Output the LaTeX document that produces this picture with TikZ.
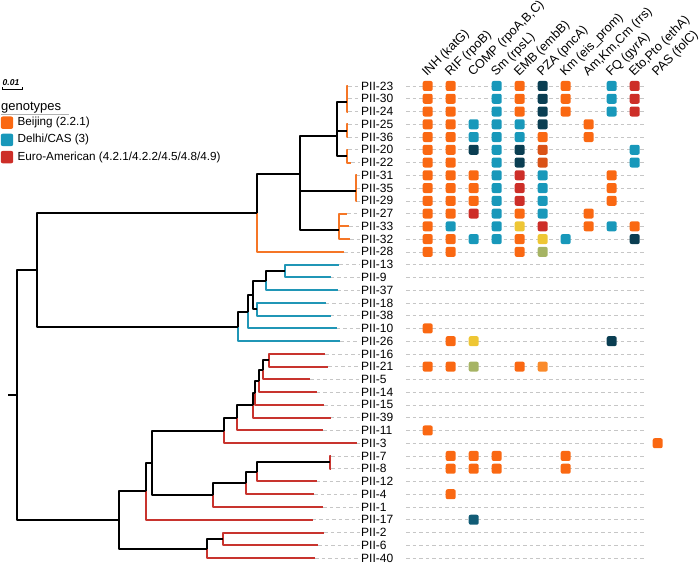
\documentclass[tikz,border=0pt]{standalone}
\usepackage{fontspec}
\setmainfont{Liberation Sans}
\usepackage{tikz}
\usetikzlibrary{positioning,calc}
\usepackage{xcolor}
\definecolor{bjOrange}{RGB}{245,118,38}
\definecolor{dcTeal}{RGB}{32,150,182}
\definecolor{euRed}{RGB}{200,52,46}
\definecolor{hmO}{RGB}{250,104,18}
\definecolor{hmT}{RGB}{24,152,186}
\definecolor{hmN}{RGB}{10,62,82}
\definecolor{hmR}{RGB}{205,46,40}
\definecolor{hmY}{RGB}{238,198,52}
\definecolor{hmG}{RGB}{166,180,100}
\definecolor{hmDO}{RGB}{218,82,22}
\definecolor{hmLO}{RGB}{250,138,42}
\definecolor{hmDT}{RGB}{18,92,118}
\definecolor{dashgray}{RGB}{198,198,198}
\tikzset{
  branch/.style={line width=2pt,line join=round},
  tiplab/.style={anchor=west,inner sep=0pt,font=\fontsize{12}{14}\selectfont},
  hdr/.style={anchor=base west,rotate=45,inner sep=0pt,font=\fontsize{12.6}{15}\selectfont},
  cell/.style={rectangle,rounded corners=2pt,minimum size=10pt,inner sep=0pt},
  leader/.style={draw=dashgray,line width=0.6pt,dash pattern=on 3.5pt off 3pt},
  legsq/.style={rectangle,rounded corners=2pt,minimum size=12.4pt,inner sep=0pt},
  legtxt/.style={anchor=west,inner sep=0pt,font=\fontsize{11.7}{14}\selectfont}
}

\begin{document}
\begin{tikzpicture}[x=1pt,y=-1pt]
  \useasboundingbox (0,0) rectangle (700,564);

  \foreach \n/\r/\tx in {23/0/348,30/1/348,24/2/348,25/3/348,36/4/348,20/5/348,22/6/351,
      31/7/357,35/8/357,29/9/357,27/10/347,33/11/349,32/12/350,28/13/344,13/14/339,
      9/15/330.7,37/16/337.7,18/17/325.7,38/18/330.7,10/19/336.7,26/20/340,16/21/325.3,
      21/22/328.3,5/23/310,14/24/316.7,15/25/324,39/26/330.7,11/27/323.3,3/28/356.7,
      7/29/331,8/30/331,12/31/316.7,4/32/314,1/33/323.3,17/34/312.7,2/35/324.3,
      6/36/318,40/37/315} {
    \pgfmathsetmacro\yy{86+12.757*\r}
    \coordinate (t\n) at (\tx,\yy);
    \node[tiplab] (lab\n) at (361,\yy) {PII-\n};
    \coordinate (rs\n) at (406,\yy);
    \coordinate (re\n) at (646,\yy);
    \draw[leader] (t\n) -- ([xshift=-1.5pt]lab\n.west);
    \draw[leader] (rs\n) -- (re\n);
  }

  \coordinate (stub) at (8,394.7);
  \coordinate (root) at (17,394.7);
  \coordinate (A) at (37,270);
  \coordinate (B) at (257,213);
  \coordinate (B1) at (300,174);
  \coordinate (B11) at (337,136.3);
  \coordinate (C1) at (346.7,102.2);
  \coordinate (C2) at (346.7,130.7);
  \coordinate (C3) at (346.7,156.2);
  \coordinate (B12) at (355.5,191.2);
  \coordinate (B13) at (339.3,229.5);
  \coordinate (D) at (237.7,326.5);
  \coordinate (D1) at (248.3,311.7);
  \coordinate (D2) at (253.3,295);
  \coordinate (D3) at (266,280.6);
  \coordinate (D4) at (257,309.3);
  \coordinate (D5) at (285,271);
  \coordinate (E) at (119.3,519.9);
  \coordinate (E1) at (145.7,491.3);
  \coordinate (E11) at (151.7,462.9);
  \coordinate (E111) at (224,430.6);
  \coordinate (E1111) at (237.3,418);
  \coordinate (F5) at (253.3,405.4);
  \coordinate (F4) at (254.7,393);
  \coordinate (F3) at (259.3,381.1);
  \coordinate (F2) at (263,369.9);
  \coordinate (F1) at (269,360.4);
  \coordinate (E112) at (212.7,495.1);
  \coordinate (E1121) at (245.7,483.2);
  \coordinate (E11211) at (256.7,472);
  \coordinate (E78) at (330.3,462.4);
  \coordinate (E2) at (207.3,548.5);
  \coordinate (E21) at (222.7,539);

  \foreach \p/\c in {C1/t23,C1/t30,C1/t24,C2/t25,C2/t36,C3/t20,C3/t22,B12/t31,B12/t35,
      B12/t29,B13/t27,B13/t33,B13/t32,B/t28}
    \draw[branch,bjOrange] (\p) |- (\c);
  \foreach \p/\c in {D5/t13,D5/t9,D3/t37,D4/t18,D4/t38,D1/t10,D/t26}
    \draw[branch,dcTeal] (\p) |- (\c);
  \foreach \p/\c in {F1/t16,F1/t21,F2/t5,F3/t14,F4/t15,F5/t39,E1111/t11,E111/t3,E78/t7,
      E78/t8,E11211/t12,E1121/t4,E112/t1,E1/t17,E21/t2,E21/t6,E2/t40}
    \draw[branch,euRed] (\p) |- (\c);
  \foreach \p/\c in {root/A,root/E,A/B,A/D,B/B1,B1/B11,B1/B12,B1/B13,B11/C1,B11/C2,B11/C3,
      D/D1,D1/D2,D2/D3,D2/D4,D3/D5,E/E1,E/E2,E1/E11,E11/E111,E11/E112,E111/E1111,
      E1111/F5,F5/F4,F4/F3,F3/F2,F2/F1,E112/E1121,E1121/E11211,E11211/E78,E2/E21}
    \draw[branch] (\p) |- (\c);
  \draw[branch] (stub) -- (root);

  \foreach \c/\t in {0/{INH (katG)},1/{RIF (rpoB)},2/{COMP (rpoA,B,C)},3/{Sm (rpsL)},
      4/{EMB (embB)},5/{PZA (pncA)},6/{Km (eis\_prom)},7/{Am,Km,Cm (rrs)},
      8/{FQ (gyrA)},9/{Eto,Pto (ethA)},10/{PAS (folC)}}
    \node[hdr] (h\c) at ({427+23*\c},77) {\t};

  \foreach \r/\c/\col in {0/0/hmO,0/1/hmO,0/3/hmT,0/4/hmO,0/5/hmN,0/6/hmO,0/8/hmT,0/9/hmR,
      1/0/hmO,1/1/hmO,1/3/hmT,1/4/hmO,1/5/hmN,1/6/hmO,1/8/hmT,1/9/hmR,
      2/0/hmO,2/1/hmO,2/3/hmT,2/4/hmO,2/5/hmN,2/6/hmO,2/8/hmT,2/9/hmR,
      3/0/hmO,3/1/hmO,3/2/hmT,3/3/hmT,3/4/hmT,3/5/hmN,3/7/hmO,
      4/0/hmO,4/1/hmO,4/2/hmT,4/3/hmT,4/4/hmT,4/5/hmO,4/7/hmO,
      5/0/hmO,5/1/hmO,5/2/hmN,5/3/hmT,5/4/hmN,5/5/hmDO,5/9/hmT,
      6/0/hmO,6/1/hmO,6/3/hmT,6/4/hmN,6/5/hmDO,6/9/hmT,
      7/0/hmO,7/1/hmO,7/2/hmO,7/3/hmT,7/4/hmR,7/5/hmT,7/8/hmO,
      8/0/hmO,8/1/hmO,8/2/hmO,8/3/hmT,8/4/hmR,8/5/hmT,8/8/hmO,
      9/0/hmO,9/1/hmO,9/2/hmO,9/3/hmT,9/4/hmR,9/5/hmT,9/8/hmO,
      10/0/hmO,10/1/hmO,10/2/hmR,10/3/hmT,10/4/hmO,10/5/hmT,10/7/hmO,
      11/0/hmO,11/1/hmT,11/3/hmT,11/4/hmY,11/5/hmR,11/7/hmO,11/8/hmT,11/9/hmO,
      12/0/hmO,12/1/hmO,12/2/hmT,12/3/hmT,12/4/hmO,12/5/hmY,12/6/hmT,12/9/hmN,
      13/0/hmO,13/1/hmO,13/4/hmO,13/5/hmG,
      19/0/hmO,20/1/hmO,20/2/hmY,20/8/hmN,
      22/0/hmO,22/1/hmO,22/2/hmG,22/4/hmO,22/5/hmLO,
      27/0/hmO,28/10/hmO,
      29/1/hmO,29/2/hmO,29/3/hmO,29/6/hmO,
      30/1/hmO,30/2/hmO,30/3/hmO,30/6/hmO,
      32/1/hmO,34/2/hmDT}
    \node[cell,fill=\col] (c\r x\c) at ({427.7+23*\c},{86+12.757*\r}) {};

  \node[inner sep=0pt,anchor=base west,font=\bfseries\itshape\fontsize{8.5}{10}\selectfont]
    (sclab) at (2.5,86) {0.01};
  \coordinate (sb1) at (2,87.3);
  \coordinate (sb2) at (22,87.3);
  \draw[line width=0.6pt] (sb1) -- ++(0,2.2) -| (sb2);
  \node[inner sep=0pt,anchor=base west,font=\fontsize{13}{15}\selectfont]
    (gttl) at (1,111) {genotypes};
  \draw[gray!60,line width=0.6pt] ([yshift=-3.5pt]gttl.base west) -- ++(68,0);
  \node[legsq,fill=hmO] (kbj) at (7,122.7) {};
  \node[legtxt,right=4pt of kbj] (tbj) {Beijing (2.2.1)};
  \node[legsq,fill=hmT,below=4.4pt of kbj] (kdc) {};
  \node[legtxt,right=4pt of kdc] (tdc) {Delhi/CAS (3)};
  \node[legsq,fill=hmR,below=4.4pt of kdc] (keu) {};
  \node[legtxt,right=4pt of keu] (teu) {Euro-American (4.2.1/4.2.2/4.5/4.8/4.9)};
\end{tikzpicture}
\end{document}
